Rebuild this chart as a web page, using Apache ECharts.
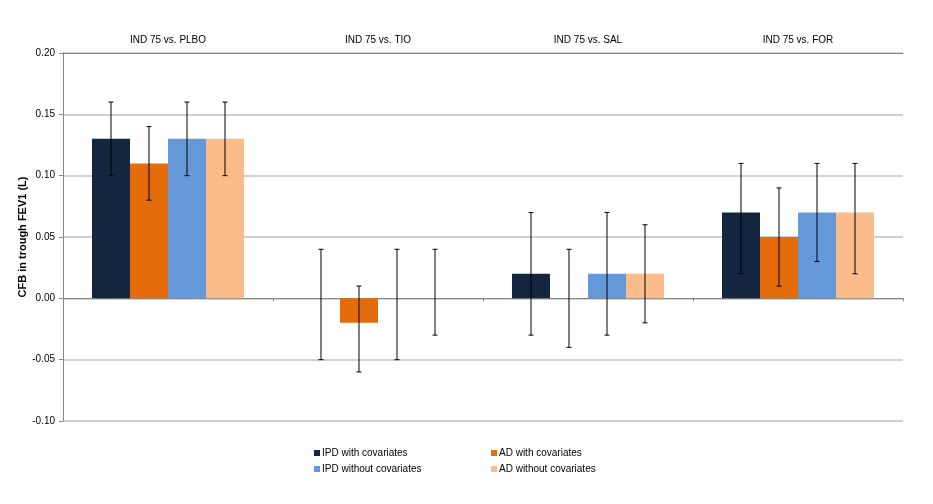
<!DOCTYPE html>
<html><head><meta charset="utf-8">
<script src="https://cdn.jsdelivr.net/npm/echarts@6/dist/echarts.min.js"></script>
<style>html,body{margin:0;padding:0;background:#fff}#c{width:933px;height:504px}</style>
</head><body><div id="c"></div>
<script>
var categories = ['IND 75 vs. PLBO', 'IND 75 vs. TIO', 'IND 75 vs. SAL', 'IND 75 vs. FOR'];
var seriesNames = ['IPD with covariates', 'AD with covariates', 'IPD without covariates', 'AD without covariates'];
var colors = ['#14263f', '#e46c0a', '#6598d8', '#f9bc8a'];
var ipdWith = [0.13, 0.00, 0.02, 0.07];
var ipdWithLow = [0.10, -0.05, -0.03, 0.02];
var ipdWithHigh = [0.16, 0.04, 0.07, 0.11];
var adWith = [0.11, -0.02, 0.00, 0.05];
var adWithLow = [0.08, -0.06, -0.04, 0.01];
var adWithHigh = [0.14, 0.01, 0.04, 0.09];
var ipdWithout = [0.13, 0.00, 0.02, 0.07];
var ipdWithoutLow = [0.10, -0.05, -0.03, 0.03];
var ipdWithoutHigh = [0.16, 0.04, 0.07, 0.11];
var adWithout = [0.13, 0.00, 0.02, 0.07];
var adWithoutLow = [0.10, -0.03, -0.02, 0.02];
var adWithoutHigh = [0.16, 0.04, 0.06, 0.11];
var yTicks = { min: -0.10, max: 0.20, interval: 0.05 };

var values = [ipdWith, adWith, ipdWithout, adWithout];
var lows = [ipdWithLow, adWithLow, ipdWithoutLow, adWithoutLow];
var highs = [ipdWithHigh, adWithHigh, ipdWithoutHigh, adWithoutHigh];
var CAT_GAP = 0.276;
var FONT = '"Liberation Sans", Arial, sans-serif';

var errData = [];
for (var s = 0; s < 4; s++) for (var c = 0; c < categories.length; c++) errData.push([c, lows[s][c], highs[s][c], s]);

var series = [];
for (var i = 0; i < 4; i++) {
  series.push({
    name: seriesNames[i], type: 'bar', data: values[i], xAxisIndex: 0,
    barGap: 0, barCategoryGap: (CAT_GAP * 100) + '%',
    itemStyle: { color: colors[i] }, animation: false
  });
}
series.push({
  type: 'custom', xAxisIndex: 0, data: errData, z: 10, animation: false,
  encode: { x: 0, y: [1, 2] },
  renderItem: function (params, api) {
    var c = api.value(0), s = api.value(3);
    var lo = api.coord([c, api.value(1)]);
    var hi = api.coord([c, api.value(2)]);
    var bw = api.size([1, 0])[0] * (1 - CAT_GAP) / 4;
    var x = lo[0] + (s - 1.5) * bw;
    var cap = 2.5;
    var st = { stroke: '#000', lineWidth: 1 };
    return { type: 'group', children: [
      { type: 'line', shape: { x1: x, y1: lo[1], x2: x, y2: hi[1] }, style: st },
      { type: 'line', shape: { x1: x - cap, y1: lo[1], x2: x + cap, y2: lo[1] }, style: st },
      { type: 'line', shape: { x1: x - cap, y1: hi[1], x2: x + cap, y2: hi[1] }, style: st }
    ]};
  }
});

var chart = echarts.init(document.getElementById('c'));
chart.setOption({
  backgroundColor: '#fff',
  textStyle: { fontFamily: FONT },
  grid: { left: 63, right: 30, top: 53, bottom: 83 },
  legend: [
    { orient: 'vertical', left: 309, top: 443, itemGap: 6, itemWidth: 6, itemHeight: 6, icon: 'rect',
      data: [seriesNames[0], seriesNames[2]], textStyle: { fontSize: 10, color: '#000', fontFamily: FONT, padding: [0, 0, 0, -3] } },
    { orient: 'vertical', left: 486, top: 443, itemGap: 6, itemWidth: 6, itemHeight: 6, icon: 'rect',
      data: [seriesNames[1], seriesNames[3]], textStyle: { fontSize: 10, color: '#000', fontFamily: FONT, padding: [0, 0, 0, -3] } }
  ],
  xAxis: [
    { type: 'category', data: categories, position: 'bottom',
      axisLine: { onZero: true, lineStyle: { color: '#888', width: 1 } },
      axisTick: { show: true, length: 3, lineStyle: { color: '#888' } },
      axisLabel: { show: false }, splitLine: { show: false } },
    { type: 'category', data: categories, position: 'top',
      axisLine: { show: true, lineStyle: { color: '#888', width: 1 } },
      axisTick: { show: false },
      axisLabel: { show: true, color: '#000', fontSize: 10, margin: 8, fontFamily: FONT } }
  ],
  yAxis: {
    type: 'value', min: yTicks.min, max: yTicks.max, interval: yTicks.interval,
    name: 'CFB in trough FEV1 (L)', nameLocation: 'middle', nameGap: 35, nameRotate: 90,
    nameMoveOverlap: false,
    nameTextStyle: { fontWeight: 'bold', fontSize: 11, color: '#000', fontFamily: FONT },
    axisLine: { show: true, lineStyle: { color: '#888' } },
    axisTick: { show: true, length: 4, lineStyle: { color: '#888' } },
    axisLabel: { color: '#000', fontSize: 10, margin: 8, fontFamily: FONT,
      formatter: function (v) { return v.toFixed(2); } },
    splitLine: { show: true, lineStyle: { color: '#c0c0c0', width: 1.5 } }
  },
  series: series
});
</script></body></html>
